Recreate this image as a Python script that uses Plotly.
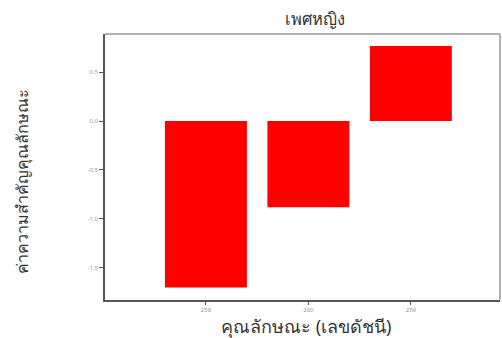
import plotly.graph_objects as go

# Feature importance values for the female group
features = ["258", "260", "259"]
importance = [-1.70, -0.88, 0.765]

title_text = "เพศหญิง"
x_title = "คุณลักษณะ (เลขดัชนี)"
y_title = "ค่าความสำคัญคุณลักษณะ"
y_ticks = [-1.5, -1.0, -0.5, 0.0, 0.5]

fig = go.Figure(
    go.Bar(
        x=list(range(len(features))),
        y=importance,
        width=0.8,
        marker=dict(color="#ff0000", line=dict(width=0)),
    )
)

text_color = "#333333"

fig.update_layout(
    width=502,
    height=338,
    margin=dict(l=105, r=2, t=34, b=38),
    paper_bgcolor="white",
    plot_bgcolor="white",
    showlegend=False,
    font=dict(family="Noto Sans, DejaVu Sans, sans-serif"),
    annotations=[
        dict(text=title_text, xref="paper", yref="paper",
             x=(315 - 105) / 395, y=1 + 16 / 266, xanchor="center", yanchor="middle",
             showarrow=False, font=dict(size=16.5, color=text_color)),
        dict(text=x_title, xref="paper", yref="paper",
             x=(306 - 105) / 395, y=-40 / 266, xanchor="center", yanchor="bottom",
             showarrow=False, font=dict(size=18, color=text_color)),
        dict(text=y_title, xref="paper", yref="paper", textangle=-90,
             x=-(105 - 22) / 395, y=(300 - 182) / 266, xanchor="center", yanchor="middle",
             showarrow=False, font=dict(size=16, color=text_color)),
    ],
    shapes=[
        # lighter top and right frame edges
        dict(type="line", xref="paper", yref="paper", x0=0, x1=1, y0=1, y1=1,
             line=dict(color="#9a9a9a", width=1.5)),
        dict(type="line", xref="paper", yref="paper", x0=1, x1=1, y0=0, y1=1,
             line=dict(color="#9a9a9a", width=1.5)),
    ],
)

fig.update_xaxes(
    range=[-0.985, 2.87],
    tickmode="array",
    tickvals=list(range(len(features))),
    ticktext=features,
    ticks="outside",
    ticklen=3,
    tickcolor="#555555",
    tickfont=dict(size=6, color="#999999"),
    showgrid=False,
    zeroline=False,
    showline=True,
    linecolor="#555555",
    linewidth=1.5,
)

fig.update_yaxes(
    range=[-1.827, 0.888],
    tickmode="array",
    tickvals=y_ticks,
    ticktext=[f"{v:.1f}" for v in y_ticks],
    ticks="outside",
    ticklen=4,
    tickcolor="#555555",
    tickfont=dict(size=6, color="#999999"),
    showgrid=False,
    zeroline=False,
    showline=True,
    linecolor="#555555",
    linewidth=1.5,
)

fig.write_html("out.html")
